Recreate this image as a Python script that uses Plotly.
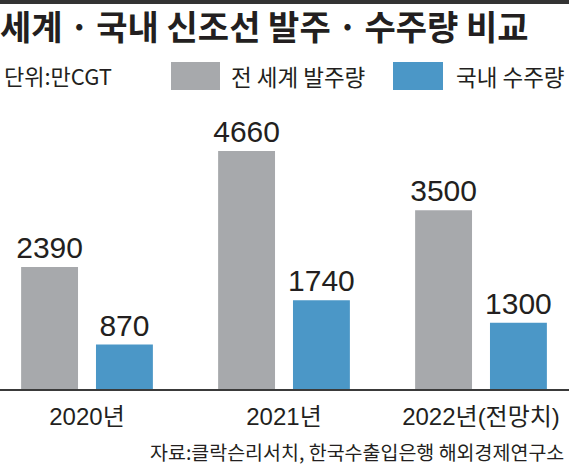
import plotly.graph_objects as go

# 신조선 발주량 / 수주량 (단위: 만CGT)
years = ["2020년", "2021년", "2022년(전망치)"]
world_orders = [2390, 4660, 3500]
korea_orders = [870, 1740, 1300]

GRAY = "#a7a9ac"
BLUE = "#4b97c7"
INK = "#231f20"
NUM = "Liberation Sans, Noto Sans CJK KR, sans-serif"
KR = "Noto Sans CJK KR, sans-serif"

W, H = 569, 466
TOP, BASE = 100, 389          # plot area top / baseline in pixels
PLOT_H = BASE - TOP


def px(x):
    return x / W


def py(y):
    return (BASE - y) / PLOT_H


fig = go.Figure()
fig.add_trace(go.Bar(x=years, y=world_orders, name="전 세계 발주량",
                     marker=dict(color=GRAY, line=dict(width=0)),
                     text=world_orders, textposition="outside", cliponaxis=False))
fig.add_trace(go.Bar(x=years, y=korea_orders, name="국내 수주량",
                     marker=dict(color=BLUE, line=dict(width=0)),
                     text=korea_orders, textposition="outside", cliponaxis=False))
fig.update_traces(textfont=dict(family=NUM, size=30, color=INK),
                  constraintext="none", hoverinfo="skip")

fig.update_layout(
    width=W, height=H,
    margin=dict(l=0, r=0, t=TOP, b=H - BASE),
    paper_bgcolor="white", plot_bgcolor="white",
    barmode="group", bargap=0.24, bargroupgap=0.24,
    showlegend=False,
    title=dict(text="<b>세계\u2009·\u2009국내 신조선 발주\u2009·\u2009수주량 비교</b>",
               x=0, xref="paper", xanchor="left",
               y=1 - 28 / H, yanchor="middle",
               font=dict(family=KR, size=34, color=INK)),
)
fig.update_xaxes(range=[-87 / 197, (W - 87) / 197], showline=True,
                 linecolor="#3a3a3a", linewidth=2, ticks="", showgrid=False,
                 tickfont=dict(family=NUM, size=24, color=INK),
                 ticklabelstandoff=5, fixedrange=True)
fig.update_yaxes(range=[0, PLOT_H / 0.05105], visible=False, fixedrange=True)

# 상단 구분선
fig.add_shape(type="rect", xref="paper", yref="paper", layer="above",
              x0=0, x1=1, y0=py(4), y1=py(0), fillcolor="#333333",
              line=dict(width=0))

# 범례 (큰 색상 상자)
fig.add_shape(type="rect", xref="paper", yref="paper",
              x0=px(171), x1=px(220), y0=py(90), y1=py(62), fillcolor=GRAY, line_width=0)
fig.add_shape(type="rect", xref="paper", yref="paper",
              x0=px(393), x1=px(443), y0=py(90), y1=py(62), fillcolor=BLUE, line_width=0)

labels = [
    ("단위:만CGT", 2, 75, "left", 22),
    ("전 세계 발주량", 229, 76, "left", 22.5),
    ("국내 수주량", 454, 76, "left", 22.5),
    ("자료:클락슨리서치, 한국수출입은행 해외경제연구소", 566, 451, "right", 19.5),
]
for text, x, y, anchor, size in labels:
    fig.add_annotation(text=text, xref="paper", yref="paper", x=px(x), y=py(y),
                       xanchor=anchor, yanchor="middle", showarrow=False,
                       font=dict(family=KR, size=size, color=INK))

fig.write_html("out.html", config={"displayModeBar": False},
               post_script="document.body.style.margin='0';")
